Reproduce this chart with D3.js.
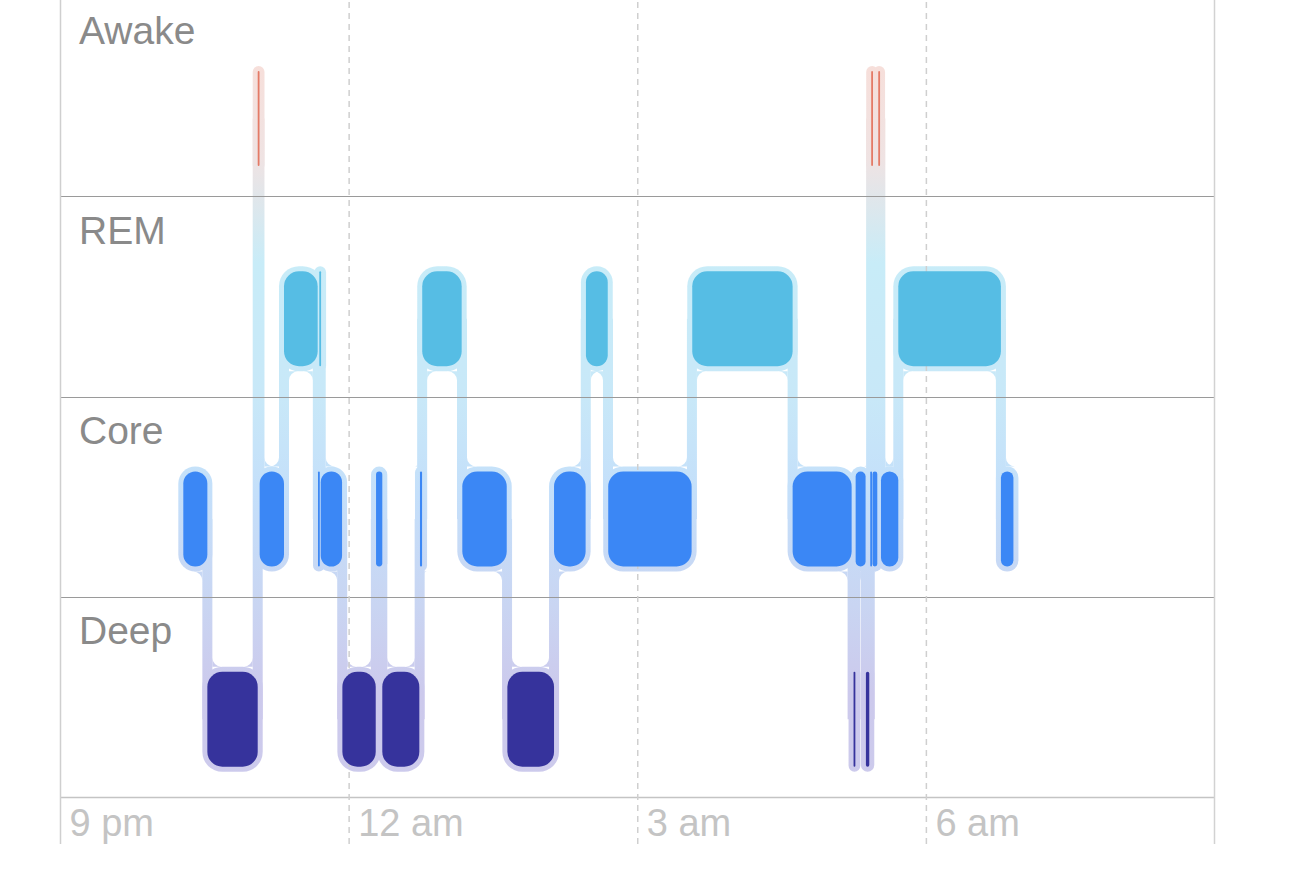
<!DOCTYPE html>
<html>
<head>
<meta charset="utf-8">
<script src="https://cdn.jsdelivr.net/npm/d3@7"></script>
<style>
  html, body { margin: 0; background: #fff; }
  svg { display: block; font-family: "Liberation Sans", Arial, Helvetica, sans-serif; }
</style>
</head>
<body>
<svg id="chart" width="1290" height="880"></svg>
<script>
// sleep stages, top to bottom
const stages = ["Awake", "REM", "Core", "Deep"]
const stageColors = ["#e47a66", "#56bde4", "#3b87f5", "#36339c"]

// time axis, minutes after 9 pm
const tickMinutes = [0, 180, 360, 540]
const tickLabels = ["9 pm", "12 am", "3 am", "6 am"]

// each stage segment: start / end in minutes after 9 pm
const segStart = [76.9, 91.9, 123.3, 124.5, 139.7, 160.9, 161.7, 162.6, 176.1, 197.1,
                  201.0, 224.5, 225.9, 250.9, 279.0, 308.1, 328.0, 341.9, 394.3, 456.9,
                  494.9, 496.2, 502.6, 505.3, 505.9, 506.7, 510.3, 512.0, 522.8, 586.8]
const segEnd   = [91.9, 123.3, 124.3, 139.7, 160.7, 161.5, 162.6, 175.9, 196.9, 201.0,
                  224.1, 225.8, 250.5, 278.6, 308.1, 327.8, 341.6, 393.9, 456.9, 493.7,
                  495.7, 502.4, 504.7, 505.8, 506.5, 509.7, 511.2, 522.8, 586.8, 594.6]
const segStage = ["Core", "Deep", "Awake", "Core", "REM", "Core", "REM", "Core", "Deep", "Core",
                  "Deep", "Core", "REM", "Core", "Deep", "Core", "REM", "Core", "REM", "Core",
                  "Deep", "Core", "Deep", "Core", "Awake", "Core", "Awake", "Core", "REM", "Core"]

const svg = d3.select("#chart")
const left = 60, right = 1214.5, bottom = 797, axisEnd = 844
const barTop = 75, barH = 95, pad = 5, halfConn = 5, maxR = 15, filletR = 9

const x = d3.scaleLinear().domain([0, 720]).range([left, right])
const y = d3.scaleBand().domain(stages).range([-4, bottom])
const color = d3.scaleOrdinal().domain(stages).range(stageColors)

const segs = segStart.map((s, i) => {
  const x0 = x(s)
  const x1 = Math.max(x(segEnd[i]), x0 + 1.8)
  const y0 = y(segStage[i]) + barTop
  return { s, e: segEnd[i], stage: segStage[i], x0, x1, w: x1 - x0, y0, y1: y0 + barH }
})

// halo gradient runs down the whole chart
const grad = svg.append("defs").append("linearGradient")
  .attr("id", "halo").attr("gradientUnits", "userSpaceOnUse")
  .attr("x1", 0).attr("x2", 0).attr("y1", 0).attr("y2", bottom)
const stops = [[0, "#fcdcd4"], [0.2, "#efe3e3"], [0.33, "#c8ecf8"], [0.5, "#c8e8f8"],
               [0.62, "#c4dffa"], [0.76, "#c9d5f2"], [0.87, "#ccc9ec"], [1, "#cdcbec"]]
grad.selectAll("stop").data(stops).join("stop")
  .attr("offset", d => d[0]).attr("stop-color", d => d[1])

const haloG = svg.append("g").attr("fill", "url(#halo)")

// halos around each segment
haloG.selectAll("rect.halo").data(segs).join("rect")
  .attr("class", "halo")
  .attr("x", d => d.x0 - pad).attr("y", d => d.y0 - pad)
  .attr("width", d => d.w + pad * 2).attr("height", barH + pad * 2)
  .attr("rx", d => Math.min(maxR, d.w / 2) + pad)

// connectors between stage changes
const links = []
const fillets = []
for (let i = 1; i < segs.length; i++) {
  const a = segs[i - 1], b = segs[i]
  if (a.stage === b.stage) continue
  const xc = x((a.e + b.s) / 2)
  const ya = (a.y0 + a.y1) / 2, yb = (b.y0 + b.y1) / 2
  links.push({ xc, top: Math.min(ya, yb), bot: Math.max(ya, yb) })
  const down = yb > ya
  fillets.push({ cx: xc - halfConn, cy: down ? a.y1 + pad : a.y0 - pad, side: -1, dir: down ? 1 : -1, r: Math.min(filletR, a.w) })
  fillets.push({ cx: xc + halfConn, cy: down ? b.y0 - pad : b.y1 + pad, side: 1, dir: down ? -1 : 1, r: Math.min(filletR, b.w) })
}

haloG.selectAll("rect.link").data(links).join("rect")
  .attr("class", "link")
  .attr("x", d => d.xc - halfConn).attr("y", d => d.top)
  .attr("width", halfConn * 2).attr("height", d => d.bot - d.top)

haloG.selectAll("path.fillet").data(fillets).join("path")
  .attr("class", "fillet")
  .attr("d", d => {
    const ax = d.cx, ay = d.cy + d.dir * d.r
    const bx = d.cx + d.side * d.r, by = d.cy
    const sweep = d.side * d.dir > 0 ? 1 : 0
    return `M${ax},${ay}A${d.r},${d.r} 0 0 ${sweep} ${bx},${by}L${d.cx},${d.cy}Z`
  })

// row grid lines
svg.append("g").selectAll("line").data(stages.slice(1)).join("line")
  .attr("x1", left).attr("x2", right)
  .attr("y1", d => Math.round(y(d)) + 0.5).attr("y2", d => Math.round(y(d)) + 0.5)
  .attr("stroke", "#9a9a9a").attr("stroke-width", 1)

svg.append("line")
  .attr("x1", left).attr("x2", right).attr("y1", bottom + 0.5).attr("y2", bottom + 0.5)
  .attr("stroke", "#c4c4c4").attr("stroke-width", 1.5)

svg.append("line")
  .attr("x1", right).attr("x2", right).attr("y1", 0).attr("y2", axisEnd)
  .attr("stroke", "#d2d2d2").attr("stroke-width", 1.5)

// time axis
const xAxis = d3.axisBottom(x)
  .tickValues(tickMinutes)
  .tickFormat((d, i) => tickLabels[i])
  .tickSizeInner(-bottom)
  .tickSizeOuter(0)

const axisG = svg.append("g").attr("transform", `translate(0,${bottom})`).call(xAxis)
axisG.select(".domain").remove()
axisG.selectAll(".tick line")
  .attr("y2", -bottom).attr("y1", axisEnd - bottom)
  .attr("stroke", "#cfcfcf").attr("stroke-width", 1.5)
  .attr("stroke-dasharray", (d, i) => i === 0 ? null : "6,5")
axisG.selectAll(".tick text")
  .attr("x", 9).attr("y", 0).attr("dy", 39)
  .attr("text-anchor", "start")
  .attr("fill", "#c4c4c4")
  .style("font-size", "38px")
  .style("font-family", "\"Liberation Sans\", Arial, Helvetica, sans-serif")

// stage segments
svg.append("g").selectAll("rect").data(segs).join("rect")
  .attr("x", d => d.x0).attr("y", d => d.y0)
  .attr("width", d => d.w).attr("height", barH)
  .attr("rx", d => Math.min(maxR, d.w / 2))
  .attr("fill", d => color(d.stage))

// row labels
svg.append("g").selectAll("text").data(stages).join("text")
  .attr("x", 79).attr("y", d => y(d) + 47.5)
  .attr("fill", "#8a8a8a")
  .style("font-size", "39px")
  .text(d => d)
</script>
</body>
</html>
